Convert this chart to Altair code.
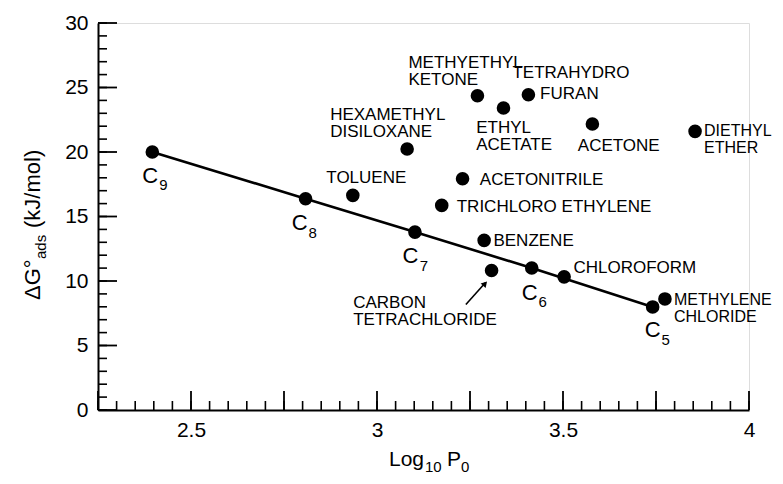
import altair as alt
import pandas as pd

FONT = "Liberation Sans"

# ---- data ----
alkane_names = ["C9", "C8", "C7", "C6", "C5"]
alkane_sub = ["9", "8", "7", "6", "5"]
alkane_x = [2.396, 2.808, 3.102, 3.416, 3.741]
alkane_y = [20.0, 16.38, 13.79, 11.01, 7.99]

compounds = ["Toluene", "Hexamethyl disiloxane", "Methylethyl ketone", "Trichloroethylene",
             "Acetonitrile", "Benzene", "Carbon tetrachloride", "Ethyl acetate",
             "Tetrahydrofuran", "Chloroform", "Acetone", "Methylene chloride", "Diethyl ether"]
comp_x = [2.935, 3.081, 3.270, 3.174, 3.230, 3.288, 3.308, 3.340, 3.407, 3.503, 3.579, 3.774, 3.855]
comp_y = [16.64, 20.23, 24.36, 15.86, 17.93, 13.15, 10.81, 23.41, 24.44, 10.32, 22.17, 8.61, 21.60]

x_tick_labels = [2.5, 3, 3.5, 4]
y_tick_labels = [0, 5, 10, 15, 20, 25, 30]
x_major = [2.25, 2.5, 2.75, 3.0, 3.25, 3.5, 3.75, 4.0]
x_minor = [round(2.25 + 0.05 * i, 2) for i in range(36)]
y_major = [0, 5, 10, 15, 20, 25, 30]
y_minor = list(range(0, 31))

# label text, alignment, pixel offsets from the point, font size
comp_labels = [
    ("Toluene", "TOLUENE", "center", 13.5, -12.4, 17),
    ("Hexamethyl disiloxane", "HEXAMETHYL\nDISILOXANE", "left", -77, -29.3, 17),
    ("Methylethyl ketone", "METHYETHYL\nKETONE", "left", -69, -27.7, 17),
    ("Tetrahydrofuran", "TETRAHYDRO", "left", -16, -17, 17),
    ("Tetrahydrofuran", "FURAN", "left", 11.7, 4.3, 17),
    ("Ethyl acetate", "ETHYL\nACETATE", "left", -27.3, 25, 17),
    ("Acetone", "ACETONE", "left", -14.6, 26.7, 17),
    ("Diethyl ether", "DIETHYL\nETHER", "left", 9, 5, 16),
    ("Acetonitrile", "ACETONITRILE", "left", 17.3, 6, 17),
    ("Trichloroethylene", "TRICHLORO ETHYLENE", "left", 15, 6.6, 17),
    ("Benzene", "BENZENE", "left", 9.3, 6, 17),
    ("Chloroform", "CHLOROFORM", "left", 9.3, -4, 17),
    ("Methylene chloride", "METHYLENE\nCHLORIDE", "left", 9, 5.7, 16),
    ("Carbon tetrachloride", "CARBON\nTETRACHLORIDE", "left", -138.4, 37.3, 17),
]
alk_offsets = {"C9": (-2, 31, 11, 38), "C8": (-6, 31, 7, 39), "C7": (-4.5, 30.5, 9, 39),
               "C6": (-2, 32, 11, 39), "C5": (0, 30, 13, 38)}

W, H = 651, 387

alk = pd.DataFrame({"name": alkane_names, "sub": alkane_sub, "x": alkane_x, "y": alkane_y})
comp = pd.DataFrame({"name": compounds, "x": comp_x, "y": comp_y})
pts = pd.concat([alk[["name", "x", "y"]], comp], ignore_index=True)

xs = alt.Scale(domain=[2.25, 4], nice=False, zero=False)
ys = alt.Scale(domain=[0, 30], nice=False, zero=True)

x_enc = alt.X("x:Q", scale=xs, title=None,
              axis=alt.Axis(values=x_tick_labels, format="~g", ticks=False, grid=False,
                            domainColor="black", domainWidth=2, labelFontSize=21,
                            labelColor="black", labelFont=FONT, labelPadding=9,
                            labelFlush=False, labelOverlap=False))
y_enc = alt.Y("y:Q", scale=ys, title=None,
              axis=alt.Axis(values=y_tick_labels, format="~g", ticks=False, grid=False,
                            domainColor="black", domainWidth=2, labelFontSize=21,
                            labelColor="black", labelFont=FONT, labelPadding=10,
                            labelFlush=False, labelOverlap=False))

layers = []

points = alt.Chart(pts).mark_circle(size=185, color="black", opacity=1).encode(x=x_enc, y=y_enc)
line = alt.Chart(alk).mark_line(color="black", strokeWidth=2.6).encode(x=x_enc, y=y_enc, order="x:Q")
layers += [line, points]

# inward ticks
xmaj = alt.Chart(pd.DataFrame({"x": x_major})).mark_rule(color="black", strokeWidth=1.8).encode(
    x=x_enc, y=alt.value(H), y2=alt.value(H - 19))
xmin = alt.Chart(pd.DataFrame({"x": x_minor})).mark_rule(color="black", strokeWidth=1.6).encode(
    x=x_enc, y=alt.value(H), y2=alt.value(H - 9))
ymaj = alt.Chart(pd.DataFrame({"y": y_major})).mark_rule(color="black", strokeWidth=1.8).encode(
    y=y_enc, x=alt.value(0), x2=alt.value(19))
ymin = alt.Chart(pd.DataFrame({"y": y_minor})).mark_rule(color="black", strokeWidth=1.6).encode(
    y=y_enc, x=alt.value(0), x2=alt.value(9))
layers += [xmaj, xmin, ymaj, ymin]

# compound labels
for name, txt, align, dx, dy, fs in comp_labels:
    sub = comp[comp["name"] == name].assign(label=txt)
    layers.append(alt.Chart(sub).mark_text(
        align=align, baseline="alphabetic", dx=dx, dy=dy, font=FONT, fontSize=fs,
        lineBreak="\n", lineHeight=17, color="black").encode(x=x_enc, y=y_enc, text="label:N"))

# alkane labels C with subscripts
for nm, (cdx, cdy, sdx, sdy) in alk_offsets.items():
    sub = alk[alk["name"] == nm].assign(c="C")
    layers.append(alt.Chart(sub).mark_text(
        align="center", baseline="alphabetic", dx=cdx, dy=cdy, font=FONT, fontSize=22,
        color="black").encode(x=x_enc, y=y_enc, text="c:N"))
    layers.append(alt.Chart(sub).mark_text(
        align="center", baseline="alphabetic", dx=sdx, dy=sdy, font=FONT, fontSize=15,
        color="black").encode(x=x_enc, y=y_enc, text="sub:N"))

# arrow to carbon tetrachloride
ccl4 = comp[comp["name"] == "Carbon tetrachloride"].assign(x2=lambda d: d["x"], y2=lambda d: d["y"])
layers.append(alt.Chart(ccl4).mark_rule(color="black", strokeWidth=1.6, xOffset=-25.7, yOffset=34,
                                        x2Offset=-6, y2Offset=12).encode(
    x=x_enc, y=y_enc, x2="x2:Q", y2="y2:Q"))
layers.append(alt.Chart(ccl4).mark_point(shape="triangle-up", filled=True, color="black", opacity=1,
                                         size=45, angle=42, xOffset=-6.5, yOffset=13).encode(
    x=x_enc, y=y_enc))

# axis titles built from pieces
dummy = pd.DataFrame({"a": [0]})

def piece(txt, x, y, size, angle=0, align="left"):
    kw = dict(align=align, baseline="alphabetic", font=FONT, fontSize=size, color="black")
    if angle:
        kw["angle"] = angle
    return alt.Chart(dummy).mark_text(text=txt, **kw).encode(x=alt.value(x), y=alt.value(y))

# x title: Log10 P0
xt0, xb = 291, 443
layers += [piece("Log", xt0, xb, 21), piece("10", xt0 + 36, xb + 6, 15),
           piece("P", xt0 + 58, xb, 21), piece("0", xt0 + 72, xb + 6, 15)]

# y title: ΔG°ads (kJ/mol), rotated
yx, y0 = -58, 277
layers += [piece("ΔG°", yx, y0, 22, 270), piece("ads", yx + 6, y0 - 41, 15, 270),
           piece("(kJ/mol)", yx, y0 - 72, 22, 270)]

chart = alt.layer(*layers).properties(
    width=W, height=H,
    autosize=alt.AutoSizeParams(type="none"),
    padding={"left": 90, "top": 15, "right": 26, "bottom": 64},
).configure_view(stroke=None).configure(background="white")

chart.save("out.html", embed_options={"renderer": "svg", "actions": False})
